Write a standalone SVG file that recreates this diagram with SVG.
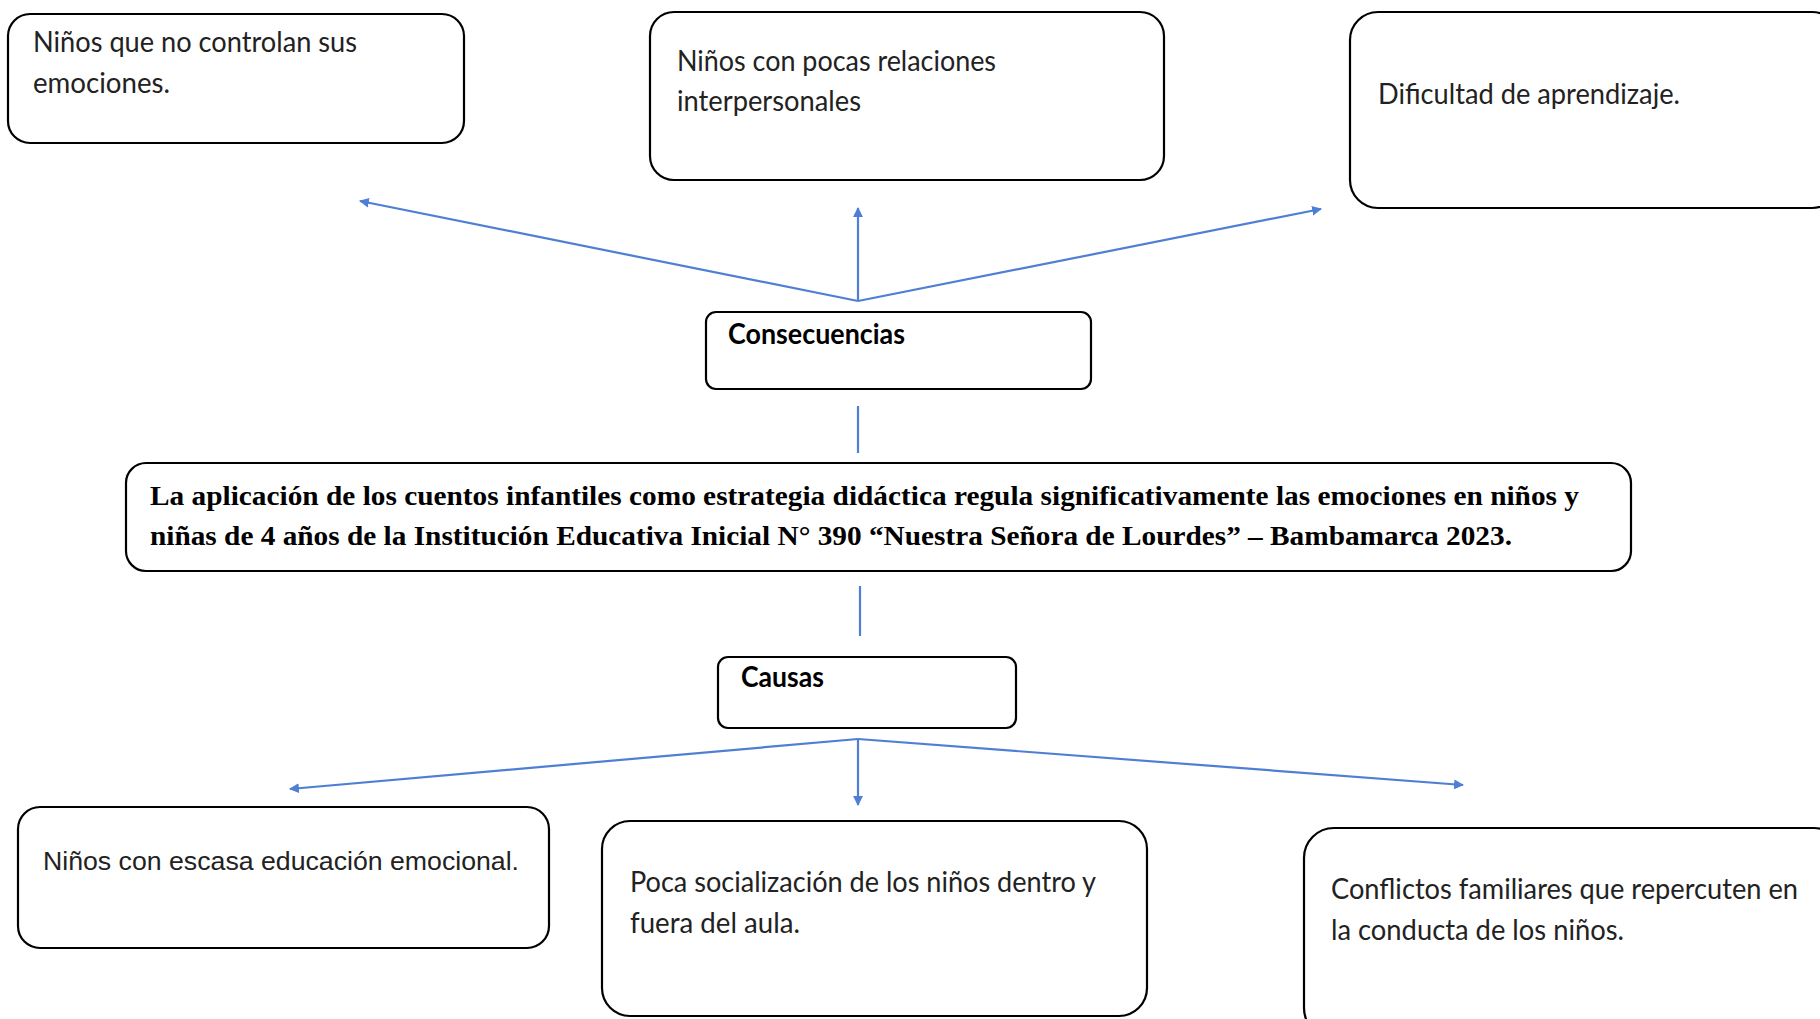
<svg xmlns="http://www.w3.org/2000/svg" width="1820" height="1019" viewBox="0 0 1820 1019">
<defs>
<style>
.box{fill:#fff;stroke:#000;stroke-width:2.2}
.t{font-family:Lato,"Open Sans",sans-serif;font-size:28px;fill:#222}
.tb{font-family:Lato,"Open Sans",sans-serif;font-size:28px;font-weight:bold;fill:#000}
.ta{font-family:"Liberation Sans",Arial,sans-serif;font-size:26.5px;fill:#222}
.ts{font-family:"Liberation Serif","Times New Roman",serif;font-size:27px;font-weight:bold;fill:#000}
.c{stroke:#4f7fd4;stroke-width:2.2;fill:none}
</style>
<marker id="ah" viewBox="0 0 10 10" refX="9" refY="5" markerWidth="4.5" markerHeight="4.5" orient="auto" markerUnits="strokeWidth">
<path d="M0,0 L10,5 L0,10 z" fill="#4f7fd4"/>
</marker>
</defs>
<rect width="1820" height="1019" fill="#fff"/>
<g id="connectors">
<line class="c" x1="858" y1="301" x2="360" y2="201" marker-end="url(#ah)"/>
<line class="c" x1="858" y1="301" x2="858" y2="208" marker-end="url(#ah)"/>
<line class="c" x1="858" y1="301" x2="1321" y2="209" marker-end="url(#ah)"/>
<line class="c" x1="858" y1="406" x2="858" y2="453"/>
<line class="c" x1="860" y1="586" x2="860" y2="636"/>
<line class="c" x1="858" y1="739" x2="290" y2="789" marker-end="url(#ah)"/>
<line class="c" x1="858" y1="739" x2="858" y2="805" marker-end="url(#ah)"/>
<line class="c" x1="858" y1="739" x2="1463" y2="785" marker-end="url(#ah)"/>
</g>
<g id="n1">
<rect class="box" x="8" y="14" width="456" height="129" rx="22"/>
<text class="t" x="33" y="52" textLength="324" lengthAdjust="spacingAndGlyphs">Niños que no controlan sus</text>
<text class="t" x="33" y="93" textLength="137" lengthAdjust="spacingAndGlyphs">emociones.</text>
</g>
<g id="n2">
<rect class="box" x="650" y="12" width="514" height="168" rx="24"/>
<text class="t" x="677" y="71" textLength="319" lengthAdjust="spacingAndGlyphs">Niños con pocas relaciones</text>
<text class="t" x="677" y="111" textLength="184" lengthAdjust="spacingAndGlyphs">interpersonales</text>
</g>
<g id="n3">
<rect class="box" x="1350" y="12" width="490" height="196" rx="28"/>
<text class="t" x="1378" y="104" textLength="302" lengthAdjust="spacingAndGlyphs">Dificultad de aprendizaje.</text>
</g>
<g id="consecuencias">
<rect class="box" x="706" y="312" width="385" height="77" rx="10"/>
<text class="tb" x="728" y="344" textLength="177" lengthAdjust="spacingAndGlyphs">Consecuencias</text>
</g>
<g id="main">
<rect class="box" x="126" y="463" width="1505" height="108" rx="20"/>
<text class="ts" x="150" y="505" textLength="1429" lengthAdjust="spacingAndGlyphs">La aplicación de los cuentos infantiles como estrategia didáctica regula significativamente las emociones en niños y</text>
<text class="ts" x="150" y="545" textLength="1362" lengthAdjust="spacingAndGlyphs">niñas de 4 años de la Institución Educativa Inicial N° 390 “Nuestra Señora de Lourdes” – Bambamarca 2023.</text>
</g>
<g id="causas">
<rect class="box" x="718" y="657" width="298" height="71" rx="10"/>
<text class="tb" x="741" y="687" textLength="83" lengthAdjust="spacingAndGlyphs">Causas</text>
</g>
<g id="b1">
<rect class="box" x="18" y="807" width="531" height="141" rx="22"/>
<text class="ta" x="43" y="870" textLength="476" lengthAdjust="spacingAndGlyphs">Niños con escasa educación emocional.</text>
</g>
<g id="b2">
<rect class="box" x="602" y="821" width="545" height="195" rx="28"/>
<text class="t" x="630" y="892" textLength="466" lengthAdjust="spacingAndGlyphs">Poca socialización de los niños dentro y</text>
<text class="t" x="630" y="933" textLength="170" lengthAdjust="spacingAndGlyphs">fuera del aula.</text>
</g>
<g id="b3">
<rect class="box" x="1304" y="828" width="540" height="210" rx="30"/>
<text class="t" x="1331" y="899" textLength="467" lengthAdjust="spacingAndGlyphs">Conflictos familiares que repercuten en</text>
<text class="t" x="1331" y="940" textLength="293" lengthAdjust="spacingAndGlyphs">la conducta de los niños.</text>
</g>
</svg>
